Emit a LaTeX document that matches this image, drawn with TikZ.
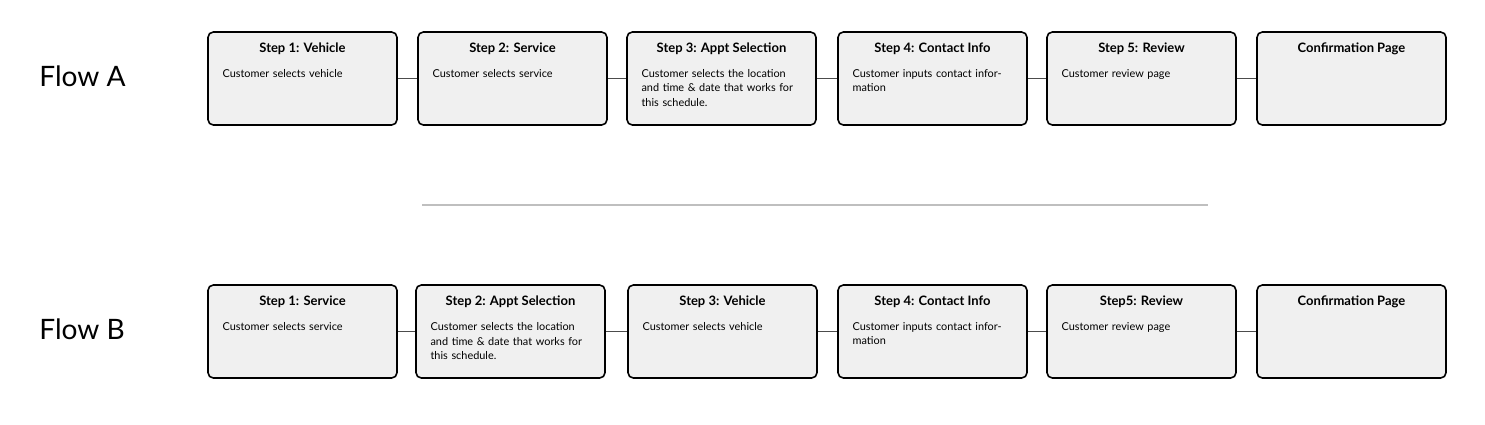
\documentclass[tikz,border=0pt]{standalone}
\usepackage{fontspec}
\setmainfont{Lato}
\usetikzlibrary{positioning}
\tikzset{
  stepbox/.style={draw=black, line width=0.9pt, fill=black!6, rounded corners=3pt,
    minimum width=3.78cm, minimum height=1.86cm, inner sep=0pt},
  steptitle/.style={font=\bfseries\fontsize{7.4}{9}\selectfont, inner sep=0pt},
  stepbody/.style={font=\fontsize{6.2}{8.2}\selectfont, align=left, inner sep=0pt,
    text width=3.2cm, anchor=north west},
  flowlabel/.style={font=\fontsize{16}{18}\selectfont, anchor=west, inner sep=0pt},
  link/.style={line width=0.6pt, black!70}
}
\begin{document}
\begin{tikzpicture}[x=0.02cm, y=-0.02cm]
  \useasboundingbox (0,0) rectangle (1485,424);

  \node[flowlabel] (flowA) at (39,76) {Flow A};
  \node[flowlabel] (flowB) at (39,329) {Flow B};

  % flow A
  \foreach \i/\x/\t/\b in {
      1/302.5/{Step 1: Vehicle}/{Customer selects vehicle},
      2/512.5/{Step 2: Service}/{Customer selects service},
      3/721.5/{Step 3: Appt Selection}/{Customer selects the location and time \& date that works for this schedule.},
      4/932.5/{Step 4: Contact Info}/{Customer inputs contact information},
      5/1141.5/{Step 5: Review}/{Customer review page},
      6/1351.5/{Confirmation Page}/{}} {
    \node[stepbox] (a\i) at (\x,78.5) {};
    \node[steptitle, below=1.85cm*0.12 of a\i.north] (at\i) {\t};
    \node[stepbody] (ab\i) at ([xshift=0.3cm, yshift=-0.76cm]a\i.north west) {\b};
  }

  % flow B
  \foreach \i/\x/\t/\b in {
      1/302.5/{Step 1: Service}/{Customer selects service},
      2/510.5/{Step 2: Appt Selection}/{Customer selects the location and time \& date that works for this schedule.},
      3/722.5/{Step 3: Vehicle}/{Customer selects vehicle},
      4/932.5/{Step 4: Contact Info}/{Customer inputs contact information},
      5/1141.5/{Step5: Review}/{Customer review page},
      6/1351.5/{Confirmation Page}/{}} {
    \node[stepbox] (b\i) at (\x,331.5) {};
    \node[steptitle, below=1.85cm*0.12 of b\i.north] (bt\i) {\t};
    \node[stepbody] (bb\i) at ([xshift=0.3cm, yshift=-0.76cm]b\i.north west) {\b};
  }

  \foreach \i [evaluate=\i as \j using int(\i+1)] in {1,...,5} {
    \draw[link] (a\i.east) -- (a\j.west);
    \draw[link] (b\i.east) -- (b\j.west);
  }

  % divider
  \coordinate (divL) at (422,205);
  \coordinate (divR) at (1208,205);
  \draw[black!25, line width=0.8pt] (divL) -- (divR);
\end{tikzpicture}
\end{document}
